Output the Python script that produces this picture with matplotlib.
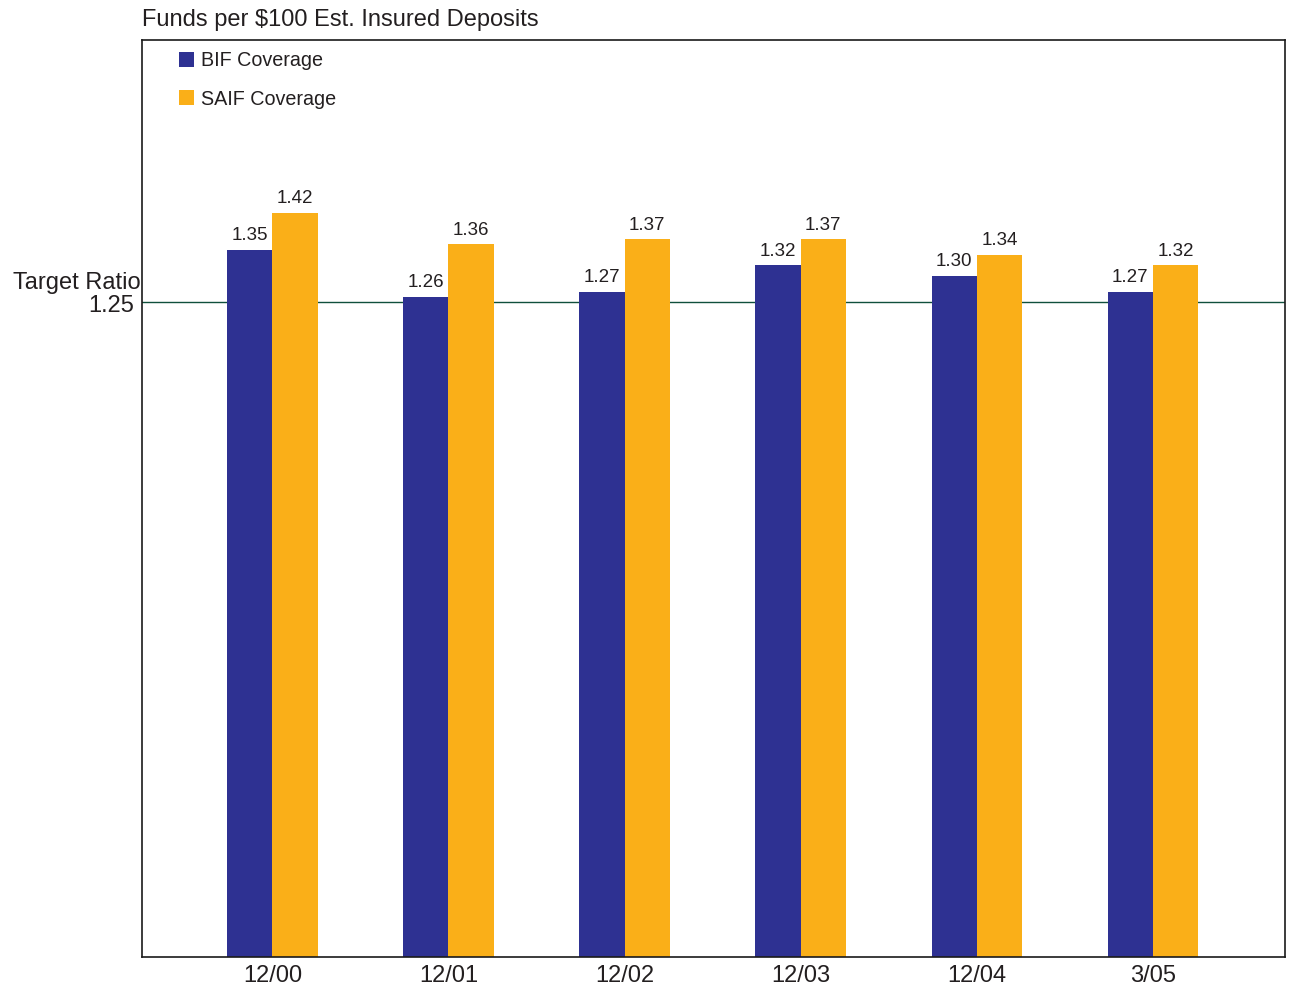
import numpy as np
import matplotlib.pyplot as plt

# Data
periods = ['12/00', '12/01', '12/02', '12/03', '12/04', '3/05']
bif = [1.35, 1.26, 1.27, 1.32, 1.30, 1.27]
saif = [1.42, 1.36, 1.37, 1.37, 1.34, 1.32]
target = 1.25

plt.rcParams['font.family'] = ['Liberation Sans', 'DejaVu Sans']
text_col = '#231f20'
bif_col = '#2e3192'
saif_col = '#faaf18'

fig = plt.figure(figsize=(12.9, 9.89), dpi=100)
ax = fig.add_axes([142/1290, 32/989, 1143/1290, 917/989])

x = np.arange(len(periods))
w = 0.257
b1 = ax.bar(x - w/2, bif, w, color=bif_col, label='BIF Coverage', zorder=2)
b2 = ax.bar(x + w/2, saif, w, color=saif_col, label='SAIF Coverage', zorder=2)

ax.axhline(target, color='#10503c', lw=1.0, zorder=1)

for bars, vals in ((b1, bif), (b2, saif)):
    for r, v in zip(bars, vals):
        ax.annotate(f'{v:.2f}', (r.get_x() + r.get_width()/2, v),
                    xytext=(0, 4), textcoords='offset points',
                    ha='center', va='bottom', fontsize=13.5, color=text_col)

ax.set_xlim(-0.74, len(periods) - 1 + 0.75)
ax.set_ylim(0, 1.75)
ax.set_xticks(x)
ax.set_xticklabels(periods, fontsize=17, color=text_col)
ax.tick_params(axis='x', length=0, pad=6)
ax.set_yticks([])

for s in ax.spines.values():
    s.set_color('#1a1a1a')
    s.set_linewidth(1.2)

# target ratio label left of the axis
ax.annotate('Target Ratio', (0, target), xycoords=('axes fraction', 'data'),
            xytext=(-1, 14), textcoords='offset points',
            ha='right', va='center', fontsize=17, color=text_col)
ax.annotate('1.25', (0, target), xycoords=('axes fraction', 'data'),
            xytext=(-6, -3), textcoords='offset points',
            ha='right', va='center', fontsize=17, color=text_col)

fig.text(142/1290, 1 - 20/989, 'Funds per $100 Est. Insured Deposits',
         ha='left', va='center', fontsize=17, color=text_col)

leg = ax.legend(loc='upper left', bbox_to_anchor=(0.032, 0.988), frameon=False,
                fontsize=14.2, handlelength=0.8, handleheight=0.8,
                handletextpad=0.35, labelspacing=1.0, borderpad=0, borderaxespad=0)
for t in leg.get_texts():
    t.set_color(text_col)

fig.savefig('out.png', dpi=100)
